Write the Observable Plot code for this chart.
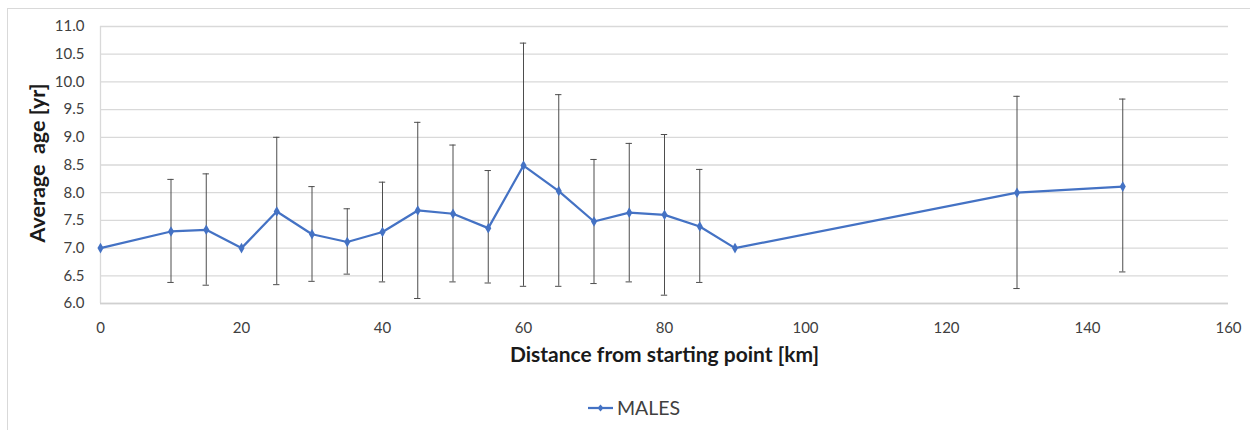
<!DOCTYPE html>
<html>
<head>
<meta charset="utf-8">
<script src="https://cdn.jsdelivr.net/npm/d3@7"></script>
<script src="https://cdn.jsdelivr.net/npm/@observablehq/plot@0.6"></script>
<style>
  html, body { margin: 0; padding: 0; background: #fff; }
  body { width: 1250px; height: 430px; position: relative; overflow: hidden; font-family: Lato, "Open Sans", sans-serif; }
  #frame { position: absolute; left: 7px; top: 8px; width: 1260px; height: 440px; border-left: 1px solid #d9d9d9; border-top: 1px solid #d9d9d9; box-sizing: border-box; }
  #chart { position: absolute; left: 0; top: 0; }
  #legend { position: absolute; left: 0; top: 385px; width: 1250px; height: 45px; }
  #legend .item { position: absolute; left: 588px; top: 11px; display: flex; align-items: center; gap: 3px; font-size: 19.5px; color: #404040; }
</style>
</head>
<body>
<div id="frame"></div>
<div id="chart"></div>
<div id="legend"><div class="item"><svg width="26" height="10"><line x1="0" y1="5" x2="25" y2="5" stroke="#4472C4" stroke-width="2.25"/><path d="M12.5,1.5 L15.5,5 L12.5,8.5 L9.5,5 Z" fill="#4472C4"/></svg><span>MALES</span></div></div>
<script>
// Data
const distanceKm = [0, 10, 15, 20, 25, 30, 35, 40, 45, 50, 55, 60, 65, 70, 75, 80, 85, 90, 130, 145];
const averageAge = [7.0, 7.30, 7.33, 7.0, 7.66, 7.25, 7.11, 7.29, 7.68, 7.62, 7.36, 8.49, 8.03, 7.48, 7.64, 7.60, 7.39, 7.0, 8.0, 8.11];
const errorUpper = [null, 8.24, 8.34, null, 9.0, 8.11, 7.71, 8.19, 9.27, 8.86, 8.40, 10.70, 9.77, 8.60, 8.89, 9.05, 8.42, null, 9.74, 9.69];
const errorLower = [null, 6.38, 6.33, null, 6.34, 6.40, 6.53, 6.39, 6.09, 6.39, 6.37, 6.31, 6.31, 6.36, 6.39, 6.15, 6.38, null, 6.27, 6.57];
const xTicks = [0, 20, 40, 60, 80, 100, 120, 140, 160];
const yTicks = [6.0, 6.5, 7.0, 7.5, 8.0, 8.5, 9.0, 9.5, 10.0, 10.5, 11.0];
const seriesName = "MALES";
const xTitle = "Distance from starting point [km]";
const yTitle = "Average\u00a0\u00a0age [yr]";

const data = distanceKm.map((km, i) => ({km, age: averageAge[i], hi: errorUpper[i], lo: errorLower[i]}));
const withErr = data.filter(d => d.hi != null);
const capHalf = 0.45;

const chart = Plot.plot({
  width: 1250,
  height: 385,
  marginLeft: 100,
  marginRight: 22,
  marginTop: 26,
  marginBottom: 82,
  style: {fontFamily: "Lato, 'Open Sans', sans-serif", background: "transparent", overflow: "visible"},
  x: {domain: [0, 160], ticks: xTicks, tickSize: 0, tickPadding: 19, label: null},
  y: {domain: [6, 11], ticks: yTicks, tickSize: 0, tickPadding: 16, tickFormat: d3.format(".1f"), label: null},
  marks: [
    Plot.gridY(yTicks, {stroke: "#d9d9d9", strokeOpacity: 1, strokeWidth: 1.3}),
    Plot.ruleX([0], {stroke: "#d9d9d9", strokeWidth: 1.3}),
    Plot.ruleY([6], {stroke: "#d0d0d0", strokeWidth: 1.3}),
    Plot.ruleX(withErr, {x: "km", y1: "lo", y2: "hi", stroke: "#4d4d4d", strokeWidth: 1}),
    Plot.ruleY(withErr, {y: "hi", x1: d => d.km - capHalf, x2: d => d.km + capHalf, stroke: "#4d4d4d", strokeWidth: 1}),
    Plot.ruleY(withErr, {y: "lo", x1: d => d.km - capHalf, x2: d => d.km + capHalf, stroke: "#4d4d4d", strokeWidth: 1}),
    Plot.line(data, {x: "km", y: "age", stroke: "#4472C4", strokeWidth: 2.25}),
    Plot.dot(data, {x: "km", y: "age", symbol: "diamond", fill: "#4472C4", r: 3.2}),
    Plot.axisX({ticks: xTicks, tickSize: 0, tickPadding: 19, fontSize: 15, fill: "#404040", label: null}),
    Plot.axisY({ticks: yTicks, tickSize: 0, tickPadding: 16, fontSize: 15, fill: "#404040", tickFormat: d3.format(".1f"), label: null}),
    Plot.text([xTitle], {frameAnchor: "bottom", dy: 58, textAnchor: "middle", fontSize: 21, fontWeight: "bold", fill: "#1a1a1a", text: d => d}),
    Plot.text([yTitle], {frameAnchor: "left", dx: -62, dy: -2, rotate: -90, textAnchor: "middle", fontSize: 21.5, fontWeight: "bold", fill: "#1a1a1a", text: d => d})
  ]
});
document.getElementById("chart").appendChild(chart);
</script>
</body>
</html>
